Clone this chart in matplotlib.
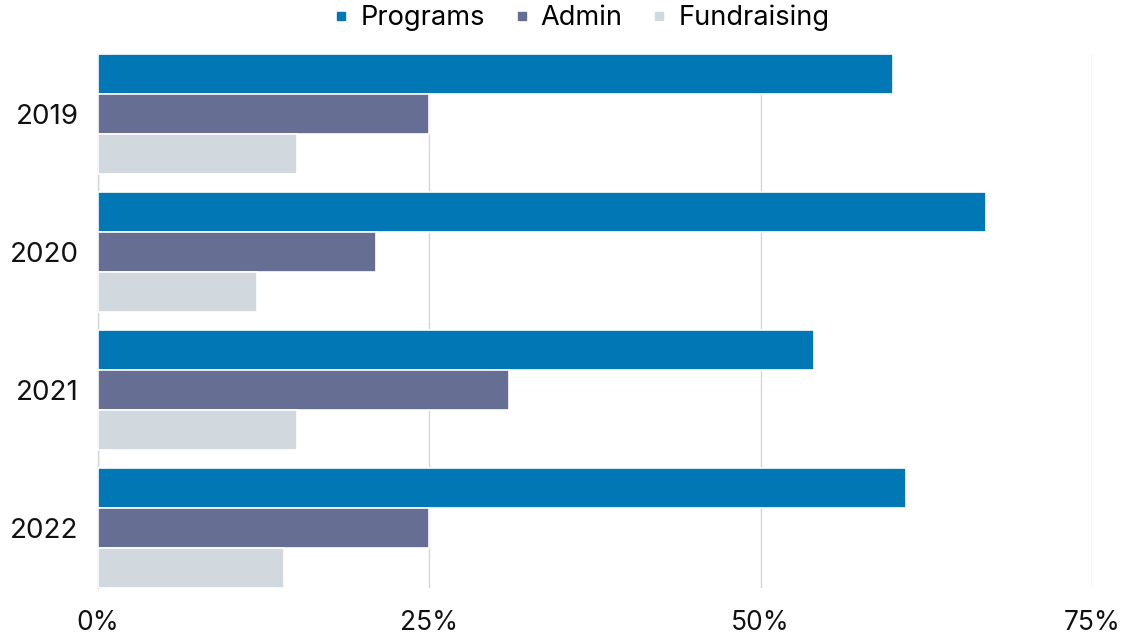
import matplotlib
matplotlib.use("Agg")
import matplotlib.pyplot as plt
from matplotlib.lines import Line2D
import numpy as np

years = ["2019", "2020", "2021", "2022"]
programs = [60, 67, 54, 61]
admin = [25, 21, 31, 25]
fundraising = [15, 12, 15, 14]
series_names = ["Programs", "Admin", "Fundraising"]
colors = ["#0277B6", "#676E93", "#D1D9DF"]
xticks = [0, 25, 50, 75]
xticklabels = ["0%", "25%", "50%", "75%"]

plt.rcParams['font.family'] = ['Inter', 'DejaVu Sans']

fig = plt.figure(figsize=(11.36, 6.37), dpi=100)
ax = fig.add_axes([98/1136, 49/637, (1092-98)/1136, (588-54)/637])

y = np.arange(len(years))
group = 120/138
h = group/3
for i, vals in enumerate([programs, admin, fundraising]):
    ax.barh(y - group/2 + h*(i+0.5), vals, height=h, color=colors[i],
            edgecolor="white", linewidth=1.2, zorder=3)

ax.set_xlim(0, 75)
ax.set_ylim(len(years) - 1 + group/2, -group/2)
ax.set_yticks(y)
ax.set_yticklabels(years)
ax.set_xticks(xticks)
ax.set_xticklabels(xticklabels)
ax.tick_params(axis='both', length=0, colors="#111111")
ax.tick_params(axis='x', pad=16, labelsize=19)
ax.tick_params(axis='y', pad=14, labelsize=20)
ax.grid(axis='x', color="#d6d6d6", linewidth=1, zorder=0)
for s in ["top", "right", "bottom"]:
    ax.spines[s].set_visible(False)
ax.spines["left"].set_color("#d6d6d6")
ax.spines["left"].set_linewidth(1)

handles = [Line2D([0], [0], marker='s', linestyle='none', markersize=6,
                  markerfacecolor=c, markeredgecolor=c) for c in colors]
fig.legend(handles, series_names, loc='center', bbox_to_anchor=(580/1136, 1 - 18/637),
           ncol=3, frameon=False, fontsize=19.6, handletextpad=0.3, columnspacing=0.95,
           handlelength=0.8)

fig.savefig("out.png", dpi=100)
